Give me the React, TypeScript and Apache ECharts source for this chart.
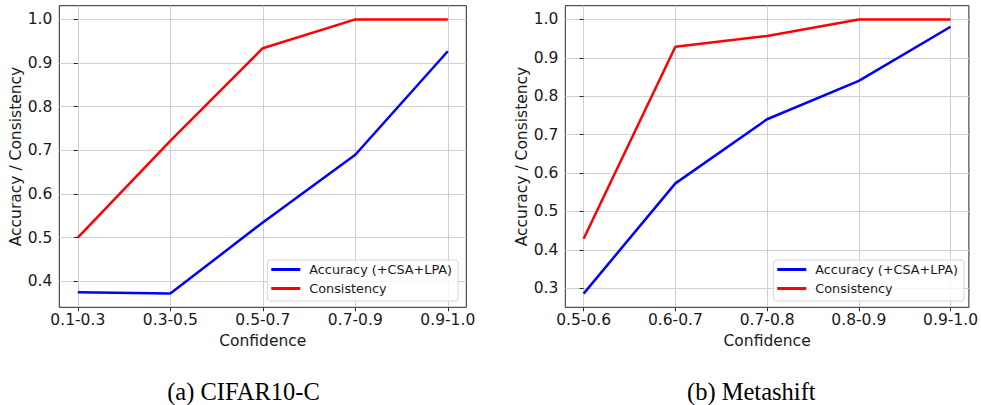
import React, { useEffect, useRef } from "react";
import * as echarts from "echarts";

const leftCategories = ["0.1-0.3", "0.3-0.5", "0.5-0.7", "0.7-0.9", "0.9-1.0"];
const leftAccuracy = [0.375, 0.372, 0.535, 0.69, 0.927];
const leftConsistency = [0.5, 0.722, 0.934, 1.0, 1.0];
const leftYTicks = [0.4, 0.5, 0.6, 0.7, 0.8, 0.9, 1.0];

const rightCategories = ["0.5-0.6", "0.6-0.7", "0.7-0.8", "0.8-0.9", "0.9-1.0"];
const rightAccuracy = [0.286, 0.573, 0.74, 0.84, 0.981];
const rightConsistency = [0.429, 0.929, 0.957, 1.0, 1.0];
const rightYTicks = [0.3, 0.4, 0.5, 0.6, 0.7, 0.8, 0.9, 1.0];

const captions = ["(a) CIFAR10-C", "(b) Metashift"];
const seriesNames = ["Accuracy (+CSA+LPA)", "Consistency"];

const FONT = "DejaVu Sans";

function pad(values: number[]) {
  // matplotlib-style 5% autoscale margin
  const lo = Math.min(...values);
  const hi = Math.max(...values);
  const m = (hi - lo) * 0.05;
  return [lo - m, hi + m];
}

function buildOption() {
  const panels = [
    { cats: leftCategories, acc: leftAccuracy, con: leftConsistency, yt: leftYTicks, left: 59.3, legendLeft: 267.3 },
    { cats: rightCategories, acc: rightAccuracy, con: rightConsistency, yt: rightYTicks, left: 565.3, legendLeft: 773.3 },
  ];
  const grid: any[] = [];
  const xAxis: any[] = [];
  const yAxis: any[] = [];
  const series: any[] = [];
  const legend: any[] = [];
  panels.forEach((p, i) => {
    grid.push({
      left: p.left,
      top: 5.7,
      width: 407,
      height: 301.6,
      show: true,
      borderColor: "#262626",
      borderWidth: 1,
      backgroundColor: "transparent",
    });
    const idx = p.cats.map((_, k) => k);
    xAxis.push({
      type: "value",
      gridIndex: i,
      min: -0.2,
      max: p.cats.length - 1 + 0.2,
      name: "Confidence",
      nameLocation: "middle",
      nameGap: 24,
      nameTextStyle: { fontFamily: FONT, fontSize: 15.5, color: "#1a1a1a" },
      axisLine: { show: false },
      axisTick: { show: true, customValues: idx, length: 4, lineStyle: { color: "#262626" } },
      axisLabel: {
        customValues: idx,
        margin: 5,
        fontFamily: FONT,
        fontSize: 15.5,
        color: "#1a1a1a",
        formatter: (v: number) => p.cats[Math.round(v)] ?? "",
      },
      splitLine: { show: true, lineStyle: { color: "#d0d0d0", width: 1 } },
    });
    const all = [...p.acc, ...p.con];
    const [ymin, ymax] = pad(all);
    yAxis.push({
      type: "value",
      gridIndex: i,
      min: ymin,
      max: ymax,
      name: "Accuracy / Consistency",
      nameLocation: "middle",
      nameGap: 35,
      nameTextStyle: { fontFamily: FONT, fontSize: 15.5, color: "#1a1a1a" },
      axisLine: { show: false },
      axisTick: { show: true, customValues: p.yt, length: 4, lineStyle: { color: "#262626" } },
      axisLabel: {
        customValues: p.yt,
        margin: 7,
        fontFamily: FONT,
        fontSize: 15.5,
        color: "#1a1a1a",
        formatter: (v: number) => v.toFixed(1),
      },
      splitLine: { show: true, lineStyle: { color: "#d0d0d0", width: 1 } },
    });
    const mk = (name: string, vals: number[], color: string) => ({
      type: "line",
      name,
      xAxisIndex: i,
      yAxisIndex: i,
      data: vals.map((v, k) => [k, v]),
      symbol: "none",
      lineStyle: { color, width: 2.5 },
      itemStyle: { color },
      z: 5,
    });
    series.push(mk(seriesNames[0], p.acc, "#0000ff"));
    series.push(mk(seriesNames[1], p.con, "#ff0000"));
    legend.push({
      left: p.legendLeft,
      top: 260,
      orient: "vertical",
      data: seriesNames,
      icon: "rect",
      itemWidth: 29,
      itemHeight: 3,
      itemGap: 6,
      padding: [3, 6, 6, 4],
      backgroundColor: "rgba(255,255,255,0.8)",
      borderColor: "#d6d6d6",
      borderWidth: 1,
      borderRadius: 3,
      textStyle: { fontFamily: FONT, fontSize: 12.8, color: "#1a1a1a", padding: [0, 0, 0, 4] },
      selectedMode: false,
    });
  });
  return {
    animation: false,
    backgroundColor: "#ffffff",
    grid,
    xAxis,
    yAxis,
    series,
    legend,
    graphic: [
      {
        type: "text",
        x: 243.5,
        y: 391,
        style: {
          text: captions[0],
          fontFamily: "Liberation Serif",
          fontSize: 24.5,
          fill: "#000",
          textAlign: "center",
          textVerticalAlign: "middle",
        },
      },
      {
        type: "text",
        x: 751.3,
        y: 391,
        style: {
          text: captions[1],
          fontFamily: "Liberation Serif",
          fontSize: 24.5,
          fill: "#000",
          textAlign: "center",
          textVerticalAlign: "middle",
        },
      },
    ],
  };
}

export default function App() {
  const ref = useRef<HTMLDivElement>(null);
  useEffect(() => {
    if (!ref.current) return;
    const chart = echarts.init(ref.current, null, { renderer: "svg" });
    chart.setOption(buildOption() as any);
    return () => chart.dispose();
  }, []);
  return (
    <div
      ref={ref}
      style={{ position: "fixed", left: 0, top: 0, width: 981, height: 405 }}
    />
  );
}
